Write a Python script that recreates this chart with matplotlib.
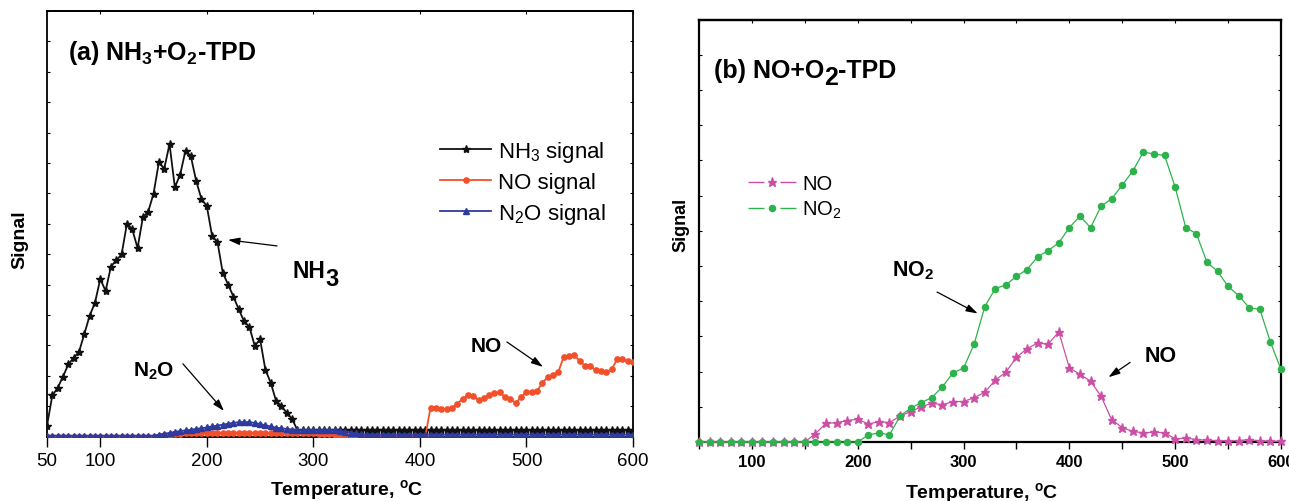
import matplotlib
matplotlib.use('Agg')
import matplotlib.pyplot as plt
from matplotlib.lines import Line2D

plt.rcParams['font.family'] = ['Liberation Sans', 'DejaVu Sans']
plt.rcParams['mathtext.fontset'] = 'custom'
plt.rcParams['mathtext.rm'] = 'Liberation Sans'
plt.rcParams['mathtext.bf'] = 'Liberation Sans:bold'
plt.rcParams['mathtext.it'] = 'Liberation Sans:italic'

# ---------------- Panel (a): NH3 + O2 TPD (5 degC steps) ----------------
temp_a = list(range(50, 605, 5))

nh3_signal = [0.36, 1.35, 1.6, 1.97, 2.37, 2.59, 2.78, 3.37, 3.97, 4.4,
              5.18, 4.79, 5.59, 5.8, 5.99, 7.0, 6.82, 6.2, 7.21, 7.4,
              7.99, 9.02, 8.81, 9.62, 8.2, 8.62, 9.41, 9.22, 8.41, 7.81,
              7.58, 6.59, 6.4, 5.38, 5.0, 4.6, 4.18, 3.79, 3.6, 2.98,
              3.2, 2.19, 1.77, 1.17, 1.0, 0.78, 0.58, 0.21,
              0.2, 0.2, 0.2, 0.2, 0.2, 0.2, 0.2, 0.2, 0.2, 0.2,
              0.2, 0.2, 0.2, 0.2, 0.2, 0.2, 0.2, 0.2, 0.2, 0.2,
              0.2, 0.2, 0.2, 0.2, 0.2, 0.2, 0.2, 0.2, 0.2, 0.2,
              0.2, 0.2, 0.2, 0.2, 0.2, 0.2, 0.2, 0.2, 0.2, 0.2,
              0.2, 0.2, 0.2, 0.2, 0.2, 0.2, 0.2, 0.2, 0.2, 0.2,
              0.2, 0.2, 0.2, 0.2, 0.2, 0.2, 0.2, 0.2, 0.2, 0.2,
              0.2, 0.2, 0.2]

no_signal_a = [0.0, 0.0, 0.0, 0.0, 0.0, 0.0, 0.0, 0.0, 0.0, 0.0,
               0.0, 0.0, 0.0, 0.0, 0.0, 0.0, 0.0, 0.0, 0.0, 0.0, 0.0,
               0.02, 0.04, 0.06, 0.08,
               0.09, 0.1, 0.1, 0.11, 0.11, 0.12, 0.12, 0.12, 0.12, 0.12,
               0.12, 0.12, 0.12, 0.12, 0.12, 0.12, 0.11, 0.11, 0.11, 0.1,
               0.1, 0.1, 0.1, 0.1, 0.1, 0.1, 0.09, 0.08, 0.07, 0.06,
               0.05, 0.04, 0.03, 0.02, 0.01,
               0.0, 0.0, 0.0, 0.0, 0.0, 0.0, 0.0, 0.0, 0.0, 0.0, 0.0, 0.0,
               0.95, 0.95, 0.91, 0.91, 0.95, 1.06, 1.25, 1.35, 1.33, 1.2,
               1.27, 1.38, 1.42, 1.46, 1.29, 1.22, 1.11, 1.29, 1.47, 1.47,
               1.5, 1.77, 1.96, 2.01, 2.13, 2.63, 2.65, 2.67, 2.49, 2.32,
               2.32, 2.19, 2.15, 2.12, 2.21, 2.54, 2.54, 2.48, 2.45]

n2o_signal = [0.03, 0.03, 0.03, 0.03, 0.03, 0.03, 0.03, 0.03, 0.03, 0.03,
              0.03, 0.03, 0.03, 0.03, 0.03, 0.03, 0.03, 0.03, 0.03, 0.03, 0.03,
              0.06, 0.09, 0.12, 0.15, 0.18, 0.2, 0.22, 0.25, 0.27, 0.3,
              0.33, 0.36, 0.39, 0.42, 0.45, 0.47, 0.48, 0.47, 0.45, 0.41,
              0.37, 0.33, 0.29, 0.27, 0.25, 0.23, 0.22,
              0.21, 0.21, 0.21, 0.21, 0.21, 0.21, 0.21,
              0.19, 0.16, 0.13, 0.1, 0.08,
              0.06, 0.06, 0.06, 0.06, 0.06, 0.06, 0.06, 0.06, 0.06, 0.06,
              0.06, 0.06, 0.06, 0.06, 0.06, 0.06, 0.06, 0.06, 0.06, 0.06,
              0.06, 0.06, 0.06, 0.06, 0.06, 0.06, 0.06, 0.06, 0.06, 0.06,
              0.06, 0.06, 0.06, 0.06, 0.06, 0.06, 0.06, 0.06, 0.06, 0.06,
              0.06, 0.06, 0.06, 0.06, 0.06, 0.06, 0.06, 0.06, 0.06, 0.06,
              0.06]

# ---------------- Panel (b): NO + O2 TPD (10 degC steps) ----------------
temp_b = list(range(50, 610, 10))

no_signal_b = [0.0, 0.0, 0.0, 0.0, 0.0, 0.0, 0.0, 0.0, 0.0, 0.0, 0.0,
               0.24, 0.53, 0.55, 0.61, 0.65, 0.51, 0.58, 0.55, 0.74, 0.86,
               1.0, 1.1, 1.06, 1.15, 1.15, 1.26, 1.41, 1.76, 1.98, 2.41,
               2.65, 2.81, 2.78, 3.13, 2.11, 1.92, 1.73, 1.30, 0.63, 0.41,
               0.30, 0.26, 0.28, 0.26, 0.09, 0.11, 0.07, 0.05, 0.04, 0.03,
               0.04, 0.07, 0.03, 0.02, 0.02]

no2_signal_b = [0.0, 0.0, 0.0, 0.0, 0.0, 0.0, 0.0, 0.0, 0.0, 0.0, 0.0,
                0.0, 0.0, 0.0, 0.0, 0.0,
                0.2, 0.26, 0.2, 0.74, 0.96, 1.12, 1.26, 1.57, 1.96, 2.1,
                2.78, 3.84, 4.36, 4.46, 4.71, 4.9, 5.26, 5.44, 5.66, 6.09,
                6.42, 6.09, 6.7, 6.91, 7.3, 7.7, 8.24, 8.18, 8.14, 7.24,
                6.09, 5.92, 5.11, 4.85, 4.42, 4.16, 3.81, 3.77, 2.84, 2.06]

xticks_a = [50, 100, 200, 300, 400, 500, 600]
xticks_b = [50, 100, 150, 200, 250, 300, 350, 400, 450, 500, 550, 600]
xticklabels_b = ['', '100', '', '200', '', '300', '', '400', '', '500', '', '600']

c_nh3 = '#111111'
c_no_a = '#f2502a'
c_n2o = '#2f3a9e'
c_no_b = '#cc4fa6'
c_no2_b = '#2eb34c'

W, H = 1289, 502
fig = plt.figure(figsize=(W / 100, H / 100), dpi=100)

# ---- axes (a)
axa = fig.add_axes([47 / W, 1 - 437.5 / H, 586 / W, 425.5 / H])
axa.plot(temp_a, nh3_signal, color=c_nh3, lw=1.3, marker='*', ms=6,
         label='NH$_3$ signal', zorder=3)
axa.plot(temp_a, no_signal_a, color=c_no_a, lw=1.3, marker='o', ms=3.8,
         label='NO signal', zorder=4)
axa.plot(temp_a, n2o_signal, color=c_n2o, lw=1.3, marker='^', ms=4.4,
         label='N$_2$O signal', zorder=5)
axa.set_xlim(50, 600)
axa.set_ylim(0, 14)
axa.set_xticks(xticks_a, [str(t) for t in xticks_a], fontsize=13.5)
axa.set_yticks(range(0, 15))
axa.set_yticklabels([])
axa.tick_params(axis='x', direction='out', length=7, width=1.0, pad=4)
axa.tick_params(axis='y', direction='in', length=2.5, width=0.8, left=True, right=True)
topa = axa.secondary_xaxis('top')
topa.set_xticks([100, 200, 300, 400, 500, 600])
topa.tick_params(direction='in', length=2.5, width=0.8, labeltop=False)
for s in axa.spines.values():
    s.set_linewidth(1.3)
topa.spines['top'].set_linewidth(1.3)

axa.set_xlabel('Temperature, $^{\\mathbf{o}}$C', fontsize=14, fontweight='bold')
axa.xaxis.set_label_coords(0.512, -0.123)
axa.xaxis.label.set_va('center')
axa.set_ylabel('Signal', fontsize=14, fontweight='bold')
axa.yaxis.set_label_coords(-0.046, 0.464)
axa.yaxis.label.set_va('center')

axa.text(0.036, 0.887, '(a) NH$_{\\mathbf{3}}$+O$_{\\mathbf{2}}$-TPD', transform=axa.transAxes,
         fontsize=18, fontweight='bold', va='baseline', ha='left')

leg_a = axa.legend(loc='upper left', bbox_to_anchor=(440 / W, 1 - 140 / H),
                   bbox_transform=fig.transFigure, frameon=False, fontsize=16,
                   handlelength=2.3, handletextpad=0.3, labelspacing=0.36,
                   borderpad=0, borderaxespad=0, numpoints=1)

arrow = dict(arrowstyle='-|>,head_length=0.7,head_width=0.22', color='black',
             lw=0.9, shrinkA=0, shrinkB=0, mutation_scale=10)

# NH3 label with big subscript
t_nh = axa.text(280, 5.25, 'NH', fontsize=16.5, fontweight='bold', va='baseline')
axa.annotate('3', xy=(1, 0), xycoords=t_nh, xytext=(0.5, -6), textcoords='offset points',
             fontsize=17, fontweight='bold', va='bottom', ha='left')
axa.annotate('', xy=(219.9, 6.47), xytext=(265.9, 6.27), arrowprops=arrow)

axa.text(130.7, 1.99, 'N$_{\\mathbf{2}}$O', fontsize=15, fontweight='bold', va='baseline')
axa.annotate('', xy=(216.1, 0.84), xytext=(177.6, 2.39), arrowprops=arrow)

axa.text(448, 2.81, 'NO', fontsize=15, fontweight='bold', va='baseline')
axa.annotate('', xy=(515.5, 2.29), xytext=(481.7, 3.11), arrowprops=arrow)

# ---- axes (b)
axb = fig.add_axes([699 / W, 1 - 443 / H, 582 / W, 422.4 / H])
axb.plot(temp_b, no_signal_b, color=c_no_b, lw=0.9, marker='*', ms=6.5,
         clip_on=False, zorder=3)
axb.plot(temp_b, no2_signal_b, color=c_no2_b, lw=0.9, marker='o', ms=4.4,
         clip_on=False, zorder=4)
axb.set_xlim(50, 600)
axb.set_ylim(0, 12)
axb.set_xticks(xticks_b, xticklabels_b, fontsize=12, fontweight='bold')
axb.set_yticks(range(0, 13))
axb.set_yticklabels([])
axb.tick_params(axis='x', direction='out', length=5, width=1.0, pad=4)
axb.tick_params(axis='y', direction='in', length=2.5, width=0.8, left=True, right=True)
topb = axb.secondary_xaxis('top')
topb.set_xticks(xticks_b)
topb.tick_params(direction='in', length=2.5, width=0.8, labeltop=False)
for s in axb.spines.values():
    s.set_linewidth(1.6)
topb.spines['top'].set_linewidth(1.6)

axb.set_xlabel('Temperature, $^{\\mathbf{o}}$C', fontsize=14, fontweight='bold')
axb.xaxis.set_label_coords(0.486, -0.118)
axb.xaxis.label.set_va('center')
axb.set_ylabel('Signal', fontsize=13, fontweight='bold')
axb.yaxis.set_label_coords(-0.031, 0.516)
axb.yaxis.label.set_va('center')

# title (b) with large lowered 2
t_b1 = axb.text(0.026, 0.864, '(b) NO+O', transform=axb.transAxes, fontsize=18,
                fontweight='bold', va='baseline', ha='left')
t_b2 = axb.annotate('2', xy=(1, 0), xycoords=t_b1, xytext=(0, -5), textcoords='offset points',
                    fontsize=18, fontweight='bold', va='bottom', ha='left')
axb.annotate('-TPD', xy=(1, 0), xycoords=t_b2, xytext=(0, 5), textcoords='offset points',
             fontsize=18, fontweight='bold', va='bottom', ha='left')

h_no = Line2D([], [], color=c_no_b, lw=1.0, marker='*', ms=6.5, dashes=(11.5, 11.5))
h_no2 = Line2D([], [], color=c_no2_b, lw=1.0, marker='o', ms=4.4, dashes=(11.5, 11.5))
leg_b = axb.legend([h_no, h_no2], ['NO', 'NO$_2$'], loc='upper left',
                   bbox_to_anchor=(748 / W, 1 - 175 / H), bbox_transform=fig.transFigure,
                   frameon=False, fontsize=14.5, handlelength=2.4, handletextpad=0.3,
                   labelspacing=0.3, borderpad=0, borderaxespad=0, numpoints=1)

axb.text(232.4, 4.74, 'NO$_{\\mathbf{2}}$', fontsize=15.5, fontweight='bold', va='baseline')
axb.annotate('', xy=(313.4, 3.65), xytext=(275.0, 4.26), arrowprops=arrow)
axb.text(471.5, 2.31, 'NO', fontsize=15.5, fontweight='bold', va='baseline')
axb.annotate('', xy=(436.9, 1.84), xytext=(457.4, 2.26), arrowprops=arrow)

fig.savefig('out.png', dpi=100)
